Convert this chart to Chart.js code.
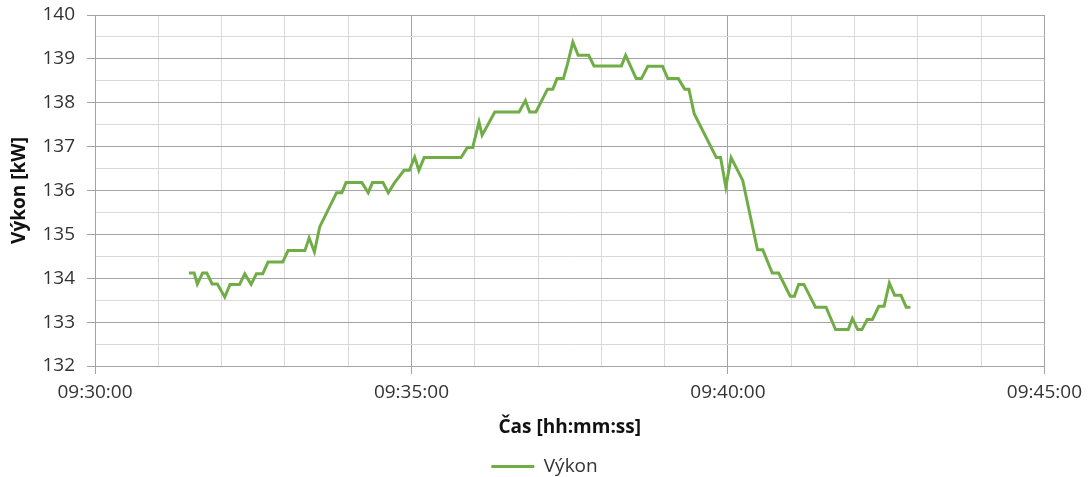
<!DOCTYPE html>
<html>
<head>
<meta charset="utf-8">
<script src="https://cdn.jsdelivr.net/npm/chart.js@4.4.0/dist/chart.umd.min.js"></script>
<style>
  html, body { margin: 0; padding: 0; background: #fff; }
</style>
</head>
<body>
<canvas id="vykonChart" width="1089" height="477"></canvas>
<script>
// time stamps (hh:mm:ss) and power readings
var cas = [
  '09:31:29', '09:31:34', '09:31:37', '09:31:42', '09:31:46', '09:31:51', '09:31:56',
  '09:32:03', '09:32:08', '09:32:17', '09:32:22', '09:32:28', '09:32:33', '09:32:39',
  '09:32:44', '09:32:58', '09:33:03', '09:33:19', '09:33:23', '09:33:28', '09:33:33',
  '09:33:49', '09:33:54', '09:33:58', '09:34:13', '09:34:19', '09:34:23', '09:34:33',
  '09:34:38', '09:34:44', '09:34:53', '09:34:58', '09:35:03', '09:35:07', '09:35:12',
  '09:35:47', '09:35:53', '09:35:58', '09:36:04', '09:36:07', '09:36:19', '09:36:42',
  '09:36:48', '09:36:52', '09:36:58', '09:37:09', '09:37:14', '09:37:18', '09:37:24',
  '09:37:28', '09:37:33', '09:37:38', '09:37:48', '09:37:53', '09:38:19', '09:38:23',
  '09:38:33', '09:38:38', '09:38:44', '09:38:58', '09:39:03', '09:39:13', '09:39:19',
  '09:39:23', '09:39:28', '09:39:49', '09:39:53', '09:39:58', '09:40:03', '09:40:14',
  '09:40:28', '09:40:33', '09:40:42', '09:40:48', '09:40:59', '09:41:03', '09:41:07',
  '09:41:12', '09:41:23', '09:41:33', '09:41:42', '09:41:54', '09:41:58', '09:42:03',
  '09:42:07', '09:42:12', '09:42:17', '09:42:23', '09:42:28', '09:42:33', '09:42:38',
  '09:42:44', '09:42:49', '09:42:53'
];

var vykon = [
  134.12, 134.12, 133.87, 134.12, 134.12, 133.87, 133.87,
  133.57, 133.86, 133.86, 134.10, 133.86, 134.10, 134.10,
  134.37, 134.37, 134.63, 134.63, 134.92, 134.60, 135.17,
  135.95, 135.95, 136.18, 136.18, 135.95, 136.18, 136.18,
  135.95, 136.18, 136.46, 136.46, 136.76, 136.46, 136.75,
  136.75, 136.98, 136.98, 137.56, 137.26, 137.79, 137.79,
  138.05, 137.79, 137.79, 138.31, 138.31, 138.55, 138.55,
  138.89, 139.38, 139.08, 139.08, 138.84, 138.84, 139.08,
  138.55, 138.55, 138.83, 138.83, 138.55, 138.55, 138.31,
  138.31, 137.75, 136.75, 136.75, 136.08, 136.75, 136.23,
  134.65, 134.65, 134.12, 134.12, 133.59, 133.59, 133.86,
  133.86, 133.34, 133.34, 132.83, 132.83, 133.08, 132.83,
  132.83, 133.06, 133.06, 133.36, 133.36, 133.89, 133.61,
  133.61, 133.34, 133.34
];

var xMin = '09:30:00';
var xMax = '09:45:00';
var yMin = 132;
var yMax = 140;

var majorGrid = '#a3a3a3';
var minorGrid = '#d9d9d9';
var textColor = '#333333';

function toSec(s) {
  var p = s.split(':');
  return Number(p[0]) * 3600 + Number(p[1]) * 60 + Number(p[2]);
}

function pad(n) {
  return (n < 10 ? '0' : '') + n;
}

function fmtTime(sec) {
  var h = Math.floor(sec / 3600);
  var m = Math.floor((sec % 3600) / 60);
  var s = sec % 60;
  return pad(h) + ':' + pad(m) + ':' + pad(s);
}

var x0 = toSec(xMin);
var x1 = toSec(xMax);

var points = cas.map(function(t, i) {
  return { x: toSec(t), y: vykon[i] };
});

function xMajor(v) { return (v - x0) % 300 === 0; }
function yMajor(v) { return Math.abs(v - Math.round(v)) < 1e-6; }

var ctx = document.getElementById('vykonChart');
var vykonChart = new Chart(ctx, {
  type: 'line',
  data: {
    datasets: [
      {
        label: 'Výkon',
        data: points,
        borderColor: '#70ad47',
        backgroundColor: '#70ad47',
        borderWidth: 3,
        pointRadius: 0,
        tension: 0,
        fill: false
      }
    ]
  },
  options: {
    responsive: false,
    animation: false,
    layout: {
      padding: { left: 0, right: 0, top: 15, bottom: 0 }
    },
    plugins: {
      tooltip: { enabled: false },
      legend: {
        position: 'bottom',
        maxHeight: 30,
        labels: {
          usePointStyle: true,
          pointStyle: 'line',
          pointStyleWidth: 43,
          padding: 10,
          color: textColor,
          font: { family: 'Open Sans', size: 19 }
        }
      }
    },
    scales: {
      x: {
        type: 'linear',
        min: x0,
        max: x1,
        afterFit: function(scale) { scale.height = 81; },
        border: { color: majorGrid, width: 1 },
        grid: {
          color: function(c) { return c.tick && xMajor(c.tick.value) ? majorGrid : minorGrid; },
          tickColor: function(c) { return c.tick && xMajor(c.tick.value) ? majorGrid : 'rgba(0,0,0,0)'; },
          tickLength: 8
        },
        ticks: {
          stepSize: 60,
          autoSkip: false,
          maxRotation: 0,
          padding: 7,
          color: textColor,
          font: { family: 'Open Sans', size: 19 },
          callback: function(v) { return xMajor(v) ? fmtTime(v) : ''; }
        },
        title: {
          display: true,
          text: 'Čas [hh:mm:ss]',
          color: '#111111',
          font: { family: 'Open Sans', size: 19, weight: 'bold' },
          padding: { top: 0, bottom: 8 }
        }
      },
      y: {
        min: yMin,
        max: yMax,
        afterFit: function(scale) {
          scale.width = 95;
          // let the layout padding alone decide where the plot starts
          scale.paddingTop = 0;
          scale.paddingBottom = 0;
        },
        border: { color: majorGrid, width: 1 },
        grid: {
          color: function(c) { return c.tick && yMajor(c.tick.value) ? majorGrid : minorGrid; },
          tickColor: function(c) { return c.tick && yMajor(c.tick.value) ? majorGrid : 'rgba(0,0,0,0)'; },
          tickLength: 8
        },
        ticks: {
          stepSize: 0.5,
          autoSkip: false,
          padding: 12,
          color: textColor,
          font: { family: 'Open Sans', size: 19 },
          callback: function(v) { return yMajor(v) ? String(v) : ''; }
        },
        title: {
          display: true,
          text: 'Výkon [kW]',
          color: '#111111',
          font: { family: 'Open Sans', size: 19, weight: 'bold' },
          padding: { top: 8, bottom: 0 }
        }
      },
      // empty strip on the right so the plot ends where the original does
      rightSpace: {
        type: 'linear',
        position: 'right',
        afterFit: function(scale) {
          scale.width = 42;
          scale.paddingTop = 0;
          scale.paddingBottom = 0;
        },
        border: { display: false },
        grid: { display: false, drawTicks: false },
        ticks: { display: false }
      }
    }
  }
});
</script>
</body>
</html>
